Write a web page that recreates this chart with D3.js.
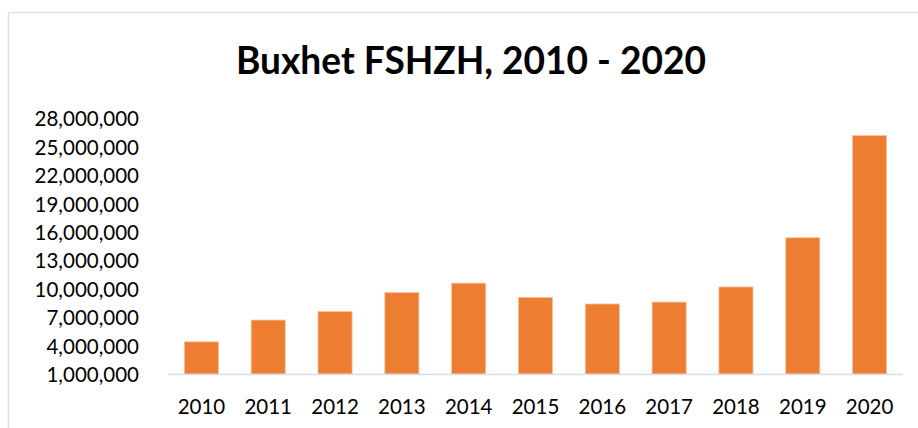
<!DOCTYPE html>
<html>
<head>
<meta charset="utf-8">
<script src="https://cdn.jsdelivr.net/npm/d3@7"></script>
<style>
  html, body { margin: 0; padding: 0; background: #fff; }
  svg { display: block; }
</style>
</head>
<body>
<svg id="chart" width="918" height="428"></svg>
<script>
const categories = ["2010","2011","2012","2013","2014","2015","2016","2017","2018","2019","2020"];
const values = [4400000, 6700000, 7600000, 9600000, 10600000, 9100000, 8400000, 8600000, 10200000, 15400000, 26200000];
const yTicks = [1000000, 4000000, 7000000, 10000000, 13000000, 16000000, 19000000, 22000000, 25000000, 28000000];
const title = "Buxhet FSHZH, 2010 - 2020";

const svg = d3.select("#chart");
const W = 918, H = 428;

// frame
svg.append("path")
  .attr("d", "M8.5,428 L8.5,12.5 L918,12.5")
  .attr("fill", "none")
  .attr("stroke", "#dde1e7")
  .attr("stroke-width", 1.5);

const x = d3.scaleBand()
  .domain(categories)
  .range([168, 903])
  .paddingInner(0.49)
  .paddingOuter(0.245);

const y = d3.scaleLinear()
  .domain([1000000, 28000000])
  .range([374, 118.5]);

// title
svg.append("text")
  .attr("x", 471)
  .attr("y", 73.5)
  .attr("text-anchor", "middle")
  .attr("font-family", "Lato, 'Open Sans', sans-serif")
  .attr("font-weight", "bold")
  .attr("font-size", 39)
  .attr("fill", "#000")
  .attr("textLength", 470)
  .attr("lengthAdjust", "spacingAndGlyphs")
  .text(title);

// bars
svg.append("g")
  .selectAll("rect")
  .data(values)
  .join("rect")
  .attr("x", (d, i) => x(categories[i]))
  .attr("width", x.bandwidth())
  .attr("y", d => y(d))
  .attr("height", d => y(1000000) - y(d))
  .attr("fill", "#ED7D31")
  .attr("stroke", "#f6c3a0")
  .attr("stroke-width", 0.8);

// x axis line
svg.append("line")
  .attr("x1", 168).attr("x2", 903)
  .attr("y1", 374.5).attr("y2", 374.5)
  .attr("stroke", "#d9dee6")
  .attr("stroke-width", 1.5);

// y axis labels
const yAxis = d3.axisLeft(y)
  .tickValues(yTicks)
  .tickFormat(d3.format(","))
  .tickSize(0)
  .tickPadding(0);

const gy = svg.append("g")
  .attr("transform", "translate(139,0)")
  .call(yAxis);
gy.select(".domain").remove();
gy.selectAll("text")
  .attr("font-family", "Lato, 'Open Sans', sans-serif")
  .attr("font-size", 20.5)
  .attr("fill", "#000")
  .attr("dy", "0.36em");

// x axis labels
const xAxis = d3.axisBottom(x).tickSize(0).tickPadding(0);
const gx = svg.append("g")
  .attr("transform", "translate(0,413.5)")
  .call(xAxis);
gx.select(".domain").remove();
gx.selectAll("text")
  .attr("font-family", "Lato, 'Open Sans', sans-serif")
  .attr("font-size", 20.5)
  .attr("fill", "#000")
  .attr("dy", 0)
  .attr("y", 0);
</script>
</body>
</html>
